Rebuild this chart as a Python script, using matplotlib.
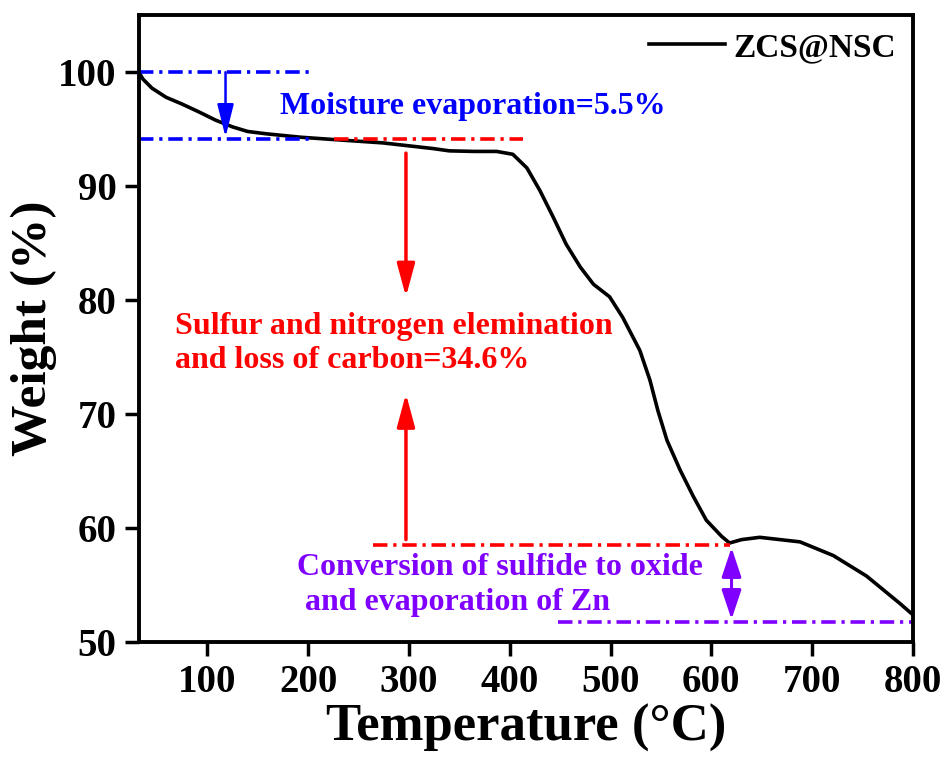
import matplotlib.pyplot as plt

plt.rcParams['font.family'] = 'Liberation Serif'
plt.rcParams['font.weight'] = 'bold'

# TGA curve
temperature = [32, 36, 45, 59, 75, 92, 108, 125, 140, 158, 192, 224, 274, 324, 340, 365,
               387, 403, 417, 430, 443, 456, 470, 483, 499, 512, 529, 539, 547, 556,
               569, 582, 595, 610, 618, 630, 648, 688, 721, 754, 787, 800]
weight = [100, 99.4, 98.6, 97.8, 97.2, 96.5, 95.8, 95.2, 94.8, 94.6, 94.3, 94.1, 93.8,
          93.3, 93.1, 93.05, 93.05, 92.8, 91.6, 89.6, 87.3, 84.9, 82.9, 81.4, 80.3,
          78.5, 75.6, 73.0, 70.3, 67.7, 65.1, 62.8, 60.7, 59.3, 58.7, 59.0, 59.2,
          58.8, 57.6, 55.8, 53.4, 52.4]

x_ticks = [100, 200, 300, 400, 500, 600, 700, 800]
y_ticks = [50, 60, 70, 80, 90, 100]

blue = '#0000FF'
red = '#FF0000'
purple = '#8000FF'
dash = (4.0, 1.6, 0.9, 1.6)

fig = plt.figure(figsize=(9.51, 7.6), dpi=100)
ax = fig.add_axes([0.146, 0.155, 0.814, 0.825])

ax.plot(temperature, weight, color='black', lw=2.6, label='ZCS@NSC')

# guide lines
ax.plot([32, 202], [100, 100], color=blue, lw=2.6, dashes=dash)
ax.plot([32, 202], [94.1, 94.1], color=blue, lw=2.6, dashes=dash)
ax.plot([226, 413], [94.1, 94.1], color=red, lw=2.6, dashes=dash)
ax.plot([264, 618], [58.5, 58.5], color=red, lw=2.6, dashes=dash)
ax.plot([448, 800], [51.8, 51.8], color=purple, lw=2.6, dashes=dash)

# arrows
ax.annotate('', xy=(118, 94.3), xytext=(118, 100),
            arrowprops=dict(arrowstyle='-|>,head_length=1.0,head_width=0.25',
                            mutation_scale=20, color=blue, lw=1.8,
                            shrinkA=0, shrinkB=0))
ax.annotate('', xy=(297, 80.3), xytext=(297, 92.9),
            arrowprops=dict(arrowstyle='-|>,head_length=1.0,head_width=0.27',
                            mutation_scale=20, color=red, lw=2.5,
                            shrinkA=0, shrinkB=0))
ax.annotate('', xy=(297, 71.8), xytext=(297, 59.0),
            arrowprops=dict(arrowstyle='-|>,head_length=1.0,head_width=0.27',
                            mutation_scale=20, color=red, lw=2.5,
                            shrinkA=0, shrinkB=0))
ax.annotate('', xy=(620, 52.0), xytext=(620, 58.3),
            arrowprops=dict(arrowstyle='<|-|>,head_length=0.9,head_width=0.3',
                            mutation_scale=20, color=purple, lw=2.2,
                            shrinkA=0, shrinkB=0))

# labels
ax.text(172, 97.0, 'Moisture evaporation=5.5%', color=blue, fontsize=23,
        fontweight='bold', ha='left', va='center')
ax.text(67.5, 76.2, 'Sulfur and nitrogen elemination\nand loss of carbon=34.6%',
        color=red, fontsize=23, fontweight='bold', ha='left', va='center',
        linespacing=1.25)
ax.text(189, 55.0, 'Conversion of sulfide to oxide\n and evaporation of Zn',
        color=purple, fontsize=23, fontweight='bold', ha='left', va='center',
        linespacing=1.25)

ax.set_xlim(32, 800)
ax.set_ylim(50, 105)
ax.set_xticks(x_ticks)
ax.set_yticks(y_ticks)
ax.tick_params(direction='out', length=10, width=2.5, labelsize=28, pad=6)
for s in ax.spines.values():
    s.set_linewidth(2.8)

ax.set_xlabel('Temperature (°C)', fontsize=38, fontweight='bold', labelpad=2)
ax.set_ylabel('Weight (%)', fontsize=37, fontweight='bold', labelpad=1)

ax.legend(loc='upper right', frameon=False, fontsize=24, handlelength=2.3,
          handletextpad=0.25, borderaxespad=0.1)

fig.savefig('out.png', dpi=100)
